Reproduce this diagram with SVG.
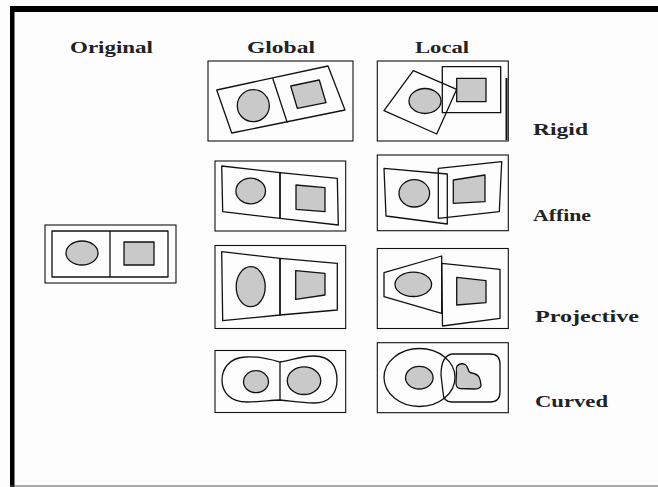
<svg xmlns="http://www.w3.org/2000/svg" width="658" height="487" viewBox="0 0 658 487">
  <style>
    .frame { fill: none; stroke: #111; stroke-width: 1.1; }
    .shape { fill: none; stroke: #111; stroke-width: 1.3; stroke-linejoin: round; }
    .fill { fill: #c9c9c9; stroke: #111; stroke-width: 1.3; stroke-linejoin: round; }
    .lbl { font-family: "Liberation Serif", "DejaVu Serif", serif; font-weight: bold; font-size: 16px; fill: #222; }
  </style>
  <rect x="0" y="0" width="658" height="487" fill="#fdfdfd"/>
  <!-- page border -->
  <rect x="10" y="6" width="648" height="6" fill="#000"/>
  <rect x="10" y="6" width="4.5" height="481" fill="#000"/>
  <line x1="10" y1="486" x2="658" y2="486" stroke="#555" stroke-width="1"/>

  <!-- column and row headings -->
  <g id="labels">
    <text class="lbl" x="70" y="53" textLength="83" lengthAdjust="spacingAndGlyphs">Original</text>
    <text class="lbl" x="247" y="53" textLength="68" lengthAdjust="spacingAndGlyphs">Global</text>
    <text class="lbl" x="415" y="53" textLength="54" lengthAdjust="spacingAndGlyphs">Local</text>
    <text class="lbl" x="533" y="135" textLength="55" lengthAdjust="spacingAndGlyphs">Rigid</text>
    <text class="lbl" x="533" y="221" textLength="58" lengthAdjust="spacingAndGlyphs">Affine</text>
    <text class="lbl" x="535" y="322" textLength="104" lengthAdjust="spacingAndGlyphs">Projective</text>
    <text class="lbl" x="535" y="407" textLength="73" lengthAdjust="spacingAndGlyphs">Curved</text>
  </g>

  <!-- original image -->
  <g id="original">
    <rect class="frame" x="45" y="225" width="131" height="58"/>
    <rect class="shape" x="52" y="231" width="116" height="46"/>
    <line class="shape" x1="110" y1="231" x2="110" y2="277"/>
    <ellipse class="fill" cx="82" cy="253" rx="16" ry="12"/>
    <rect class="fill" x="124" y="242" width="30" height="23"/>
  </g>

  <!-- global rigid -->
  <g id="global-rigid">
    <rect class="frame" x="208" y="61" width="145" height="80"/>
    <polygon class="shape" points="216.7,90 328,66 345,110 231.7,133"/>
    <line class="shape" x1="272.7" y1="78.3" x2="287.3" y2="122.7"/>
    <circle class="fill" cx="253.3" cy="105.7" r="16"/>
    <polygon class="fill" points="290.7,86 319.3,80 326,102.7 297.3,108.3"/>
  </g>

  <!-- local rigid -->
  <g id="local-rigid">
    <rect class="frame" x="377.3" y="61" width="131" height="80"/>
    <line x1="506.5" y1="78" x2="506.5" y2="140" stroke="#111" stroke-width="2"/>
    <polygon class="shape" points="413.3,70.7 456.7,89.3 436.7,134 384,110.7"/>
    <ellipse class="fill" cx="425" cy="101" rx="16" ry="12.5"/>
    <rect class="shape" x="442.3" y="66.7" width="58.4" height="46"/>
    <rect class="fill" x="456.7" y="78.3" width="29.3" height="23.4"/>
  </g>

  <!-- global affine -->
  <g id="global-affine">
    <rect class="frame" x="215" y="161" width="130.7" height="70"/>
    <polygon class="shape" points="221.7,166 280,172.7 280,218.3 222.7,211.7"/>
    <polygon class="shape" points="280,172.7 337.3,178.3 338.3,225 280,218.3"/>
    <ellipse class="fill" cx="250.7" cy="191" rx="14.8" ry="12.8"/>
    <polygon class="fill" points="296,185 325,187.7 325,211.7 296,209.3"/>
  </g>

  <!-- local affine -->
  <g id="local-affine">
    <rect class="frame" x="377.3" y="155" width="131" height="75.7"/>
    <polygon class="shape" points="384,168.3 447.3,174 447.3,224 386,216"/>
    <polygon class="shape" points="438.3,168.3 501.7,161.7 499.3,211.7 438.3,218.3"/>
    <ellipse class="fill" cx="414.3" cy="193.3" rx="15.3" ry="13.7"/>
    <polygon class="fill" points="453.3,180 485,175 485,201.7 453.3,203.3"/>
  </g>

  <!-- global projective -->
  <g id="global-projective">
    <rect class="frame" x="215" y="245.5" width="130.7" height="83"/>
    <polygon class="shape" points="221.7,251.7 280,258.3 280,315 222.7,320.7"/>
    <polygon class="shape" points="280,258.3 337.3,263.3 337.3,310 280,315"/>
    <ellipse class="fill" cx="250.7" cy="286.7" rx="14.5" ry="20"/>
    <polygon class="fill" points="295.7,270.7 325,273.3 325,295 295.7,299.3"/>
  </g>

  <!-- local projective -->
  <g id="local-projective">
    <rect class="frame" x="377.3" y="248.5" width="131" height="80"/>
    <polygon class="shape" points="384,272.7 441.7,256 441.7,313.3 384,296.7"/>
    <polygon class="shape" points="441.7,263.3 500,269.3 500,318.3 442.5,326"/>
    <ellipse class="fill" cx="413.3" cy="284.3" rx="18.3" ry="12.2"/>
    <polygon class="fill" points="456.7,277.3 486,280.7 486,302.7 456.7,305"/>
  </g>

  <!-- global curved -->
  <g id="global-curved">
    <rect class="frame" x="215" y="350.5" width="130.7" height="62"/>
    <path class="shape" d="M280,362 C266,358 256,356 245,357 C229,358 222,369 222,380 C222,392 230,402 247,402 C262,402 270,400 280,400 C291,401 301,403 314,403 C330,403 337,393 337,380 C337,366 330,356 314,356 C300,356 290,361 280,362 Z"/>
    <line class="shape" x1="280" y1="362" x2="280" y2="400"/>
    <ellipse class="fill" cx="256" cy="381.7" rx="12.5" ry="11"/>
    <ellipse class="fill" cx="304" cy="380.7" rx="16.7" ry="13.8"/>
  </g>

  <!-- local curved -->
  <g id="local-curved">
    <rect class="frame" x="377.3" y="342.7" width="131" height="70"/>
    <ellipse class="shape" cx="419.5" cy="377.5" rx="35.5" ry="29"/>
    <ellipse class="fill" cx="419.3" cy="377.7" rx="13.8" ry="11.3"/>
    <path class="shape" d="M452,354 L490,354 Q500,354 500,364 L500,392 Q500,402 490,402 L452,402 Q443,402 443,392 L441,375 Q441,356 452,354 Z"/>
    <path class="fill" d="M457,366 Q460,363 464,364 Q467,365 468,369 Q469,373 472,373 Q477,374 479,377 Q481,381 481,386 Q480,389 474,389 L460,388.5 Q456,388 456,383 L456.5,372 Q456,368 457,366 Z"/>
  </g>
</svg>
